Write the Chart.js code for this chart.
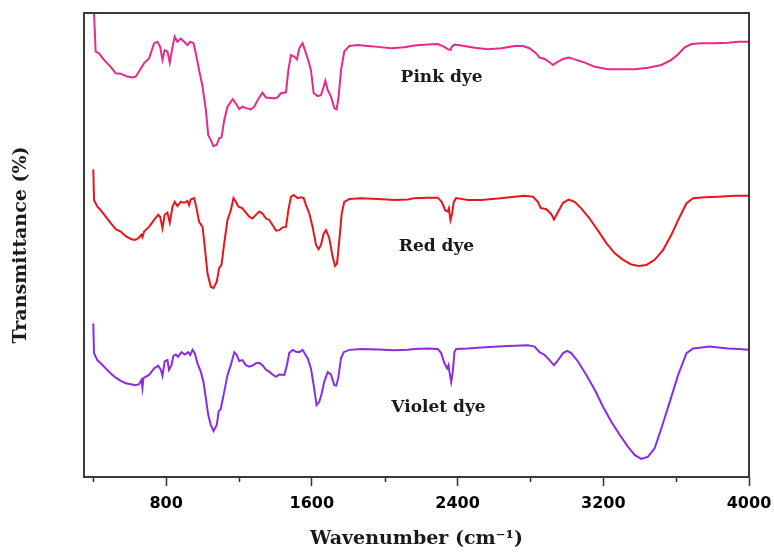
<!DOCTYPE html>
<html>
<head>
<meta charset="utf-8">
<script src="https://cdn.jsdelivr.net/npm/chart.js@4.4.1/dist/chart.umd.min.js"></script>
<style>
  html, body { margin: 0; padding: 0; background: #fff; }
  #c { display: block; }
</style>
</head>
<body>
<canvas id="c" width="774" height="560"></canvas>
<script>
"use strict";
/* FTIR spectra of the three dyes (offset transmittance, a.u.) */

const MAJOR = [800, 1600, 2400, 3200, 4000];
const MINOR = [400, 1200, 2000, 2800, 3600];

const pinkWn = [404,413,431,459,496,523,551,587,615,633,651,679,706,734,752,767,780,792,807,820,835,847,862,880,899,917,932,950,963,981,
  1000,1018,1031,1045,1060,1078,1091,1104,1119,1137,1165,1183,1201,1219,1238,1265,1284,1302,1329,1348,1375,1394,1412,1430,1458,1471,1485,
  1504,1518,1531,1549,1562,1577,1595,1610,1632,1650,1665,1674,1687,1705,1723,1736,1747,1760,1778,1806,1852,1907,1962,2035,2108,
  2163,2236,2291,2328,2346,2361,2368,2383,2420,2493,2566,2640,2713,2759,2795,2832,2850,2878,2905,2924,2942,2979,3010,3043,3098,3153,
  3226,3299,3373,3446,3519,3574,3611,3647,3684,3739,3812,3886,3941,4000];
const pinkT = [100,91.7,91.3,89.9,88.4,87.0,86.9,86.3,86.1,86.3,87.4,89.2,90.2,93.5,93.8,92.7,89.9,92.0,91.7,89.3,92.7,94.9,93.8,94.5,93.8,93.1,93.8,93.5,91.3,87.7,
  84.1,79.1,73.7,72.6,71.3,71.6,73.0,73.2,76.9,79.8,81.4,80.5,79.3,79.8,79.5,79.2,79.8,81.2,82.8,81.8,81.7,81.6,81.8,82.7,82.9,87.7,90.9,
  90.6,90.0,92.4,93.5,92.0,90.2,87.7,82.7,82.1,82.3,84.1,85.4,83.4,82.0,79.5,79.2,82.0,87.7,91.7,92.9,93.1,92.9,92.7,92.4,92.6,
  93.0,93.2,93.3,92.7,92.2,92.0,92.7,93.2,93.0,92.5,92.2,92.4,92.9,92.9,92.4,91.3,90.4,90.1,89.4,88.8,89.3,90.1,90.4,90.0,89.3,88.4,
  87.9,87.9,87.9,88.2,88.8,89.9,91.1,92.6,93.3,93.5,93.5,93.6,93.8,93.8];

const redWn = [400,404,422,441,468,496,523,551,578,606,628,646,664,670,679,706,734,756,767,780,792,807,820,835,847,862,880,899,917,926,935,954,967,981,
  1000,1012,1027,1045,1060,1078,1091,1104,1119,1137,1155,1170,1183,1196,1219,1238,1256,1274,1293,1311,1329,1348,1366,1384,1403,1421,1439,1458,
  1471,1485,1500,1522,1540,1555,1568,1586,1604,1623,1637,1650,1665,1678,1696,1714,1727,1738,1751,1764,1778,1806,1870,1962,2053,2127,
  2163,2236,2291,2313,2332,2346,2352,2361,2370,2379,2392,2456,2530,2621,2713,2768,2814,2841,2856,2887,2914,2929,2947,2979,3010,3043,3079,
  3125,3171,3217,3263,3309,3354,3395,3437,3482,3528,3574,3620,3657,3693,3757,3831,3922,4000];
const redT = [66.3,59.7,58.3,57.5,56.1,54.7,53.4,52.9,51.9,51.3,51.1,51.4,52.2,51.7,52.9,53.9,55.4,56.5,56.1,53.6,56.5,57.0,54.8,58.3,59.3,58.4,59.3,59.1,59.5,58.6,59.8,60.1,57.9,55.0,
  53.9,49.6,43.9,41.0,40.7,42.1,45.0,45.7,50.4,55.4,57.5,60.1,59.3,58.3,57.9,57.0,56.1,55.7,56.5,57.2,56.8,55.7,55.4,54.3,53.1,53.2,53.8,53.9,
  57.5,60.4,60.8,60.1,60.3,60.1,58.6,56.8,53.9,50.0,49.1,50.0,52.5,53.2,51.4,47.5,45.5,46.0,51.1,56.8,59.3,59.9,60.1,59.9,59.7,59.8,
  60.1,60.2,60.2,59.3,57.5,57.2,57.9,55.4,56.8,59.3,60.1,59.7,59.7,60.0,60.4,60.6,60.4,59.3,58.0,57.7,56.7,55.5,56.8,59.1,59.8,59.3,57.9,
  55.7,53.1,50.4,48.2,46.8,45.8,45.5,45.7,46.8,48.9,52.2,56.1,59.0,60.1,60.3,60.4,60.6,60.6];

const violetWn = [400,404,422,441,468,496,523,551,578,606,633,651,664,670,675,706,734,756,771,780,792,807,816,829,840,853,866,884,902,921,932,945,957,972,990,
  1005,1018,1031,1045,1060,1078,1088,1100,1119,1137,1155,1174,1188,1201,1219,1238,1256,1274,1293,1311,1329,1348,1366,1384,1403,1421,1449,
  1463,1476,1494,1513,1531,1549,1564,1577,1595,1610,1626,1641,1654,1668,1687,1705,1723,1734,1745,1760,1775,1806,1870,1962,2053,2127,
  2163,2236,2291,2310,2328,2343,2350,2357,2365,2374,2383,2392,2456,2530,2621,2713,2786,2823,2850,2878,2905,2929,2947,2979,3002,3024,3061,
  3107,3153,3198,3244,3290,3336,3373,3409,3446,3482,3519,3565,3611,3657,3693,3739,3785,3831,3886,3941,4000];
const violetT = [33.1,26.7,25.2,24.5,23.4,22.3,21.4,20.7,20.2,20.0,19.8,20.0,20.9,19.2,21.3,22.0,23.4,24.0,23.1,21.8,24.9,25.2,23.1,24.1,26.1,26.4,25.9,26.9,26.4,26.9,26.3,27.4,26.7,24.5,22.7,
  20.5,17.0,13.4,11.2,9.9,11.2,14.1,14.7,18.4,22.0,24.1,26.9,26.3,25.0,25.2,24.1,23.8,24.0,24.5,24.6,24.1,23.1,22.7,22.1,21.6,22.1,22.0,
  24.1,26.7,27.4,27.0,26.9,27.4,26.4,25.6,23.4,19.8,15.5,16.2,18.0,20.5,22.6,22.1,19.8,19.7,21.3,25.6,26.9,27.4,27.6,27.5,27.3,27.4,
  27.6,27.7,27.6,26.7,24.5,23.4,24.1,22.3,20.5,22.7,27.0,27.6,27.7,27.9,28.1,28.3,28.4,28.1,26.9,26.3,25.2,24.1,24.9,26.7,27.2,26.7,24.9,
  22.0,18.8,15.2,11.9,9.1,6.5,4.7,3.9,4.4,6.2,10.5,16.2,22.0,26.7,27.7,27.9,28.1,27.9,27.7,27.6,27.4];

// curve captions, placed in data units
const capText = ["Pink dye", "Red dye", "Violet dye"];
const capWn = [2312, 2284, 2295];
const capT = [86.0, 49.6, 14.9];

const SERIF = "'DejaVu Serif', 'Liberation Serif', serif";
const pts = (xs, ys) => xs.map((x, i) => ({ x: x, y: ys[i] }));
const series = (data, color) => ({ data: data, borderColor: color, borderWidth: 2, pointRadius: 0, fill: false, tension: 0 });

// box round the plot, minor ticks, curve captions
const extras = {
  id: "extras",
  afterDraw(chart){
    const { ctx, chartArea: a, scales: { x, y } } = chart;
    ctx.save();
    ctx.strokeStyle = "#333"; ctx.lineWidth = 1.5;
    MINOR.forEach(v => {
      const px = Math.round(x.getPixelForValue(v)) + 0.5;
      ctx.beginPath(); ctx.moveTo(px, a.bottom); ctx.lineTo(px, a.bottom + 5); ctx.stroke();
    });
    ctx.lineWidth = 2; ctx.strokeStyle = "#3a3a3a";
    ctx.strokeRect(a.left, a.top, a.right - a.left, a.bottom - a.top);
    ctx.fillStyle = "#1a1a1a"; ctx.font = "bold 17px " + SERIF;
    ctx.textAlign = "center"; ctx.textBaseline = "middle";
    capText.forEach((t, i) => ctx.fillText(t, x.getPixelForValue(capWn[i]), y.getPixelForValue(capT[i])));
    ctx.restore();
  }
};

new Chart(document.getElementById("c"), {
  type: "line",
  data: { datasets: [
    series(pts(pinkWn, pinkT), "#E8288C"),
    series(pts(redWn, redT), "#E6161C"),
    series(pts(violetWn, violetT), "#8A2BE6")
  ]},
  options: {
    responsive: false, animation: false, parsing: true,
    layout: { padding: { top: 13, right: 25, left: 0, bottom: 0 } },
    plugins: { legend: { display: false }, tooltip: { enabled: false } },
    scales: {
      x: {
        type: "linear", min: 349, max: 4000,
        afterBuildTicks: s => { s.ticks = MAJOR.map(v => ({ value: v })); },
        afterFit: s => { s.height = 83; s.paddingLeft = 0; s.paddingRight = 0; },
        border: { display: false },
        grid: { drawOnChartArea: false, tickLength: 9, tickColor: "#333", tickWidth: 1.5 },
        ticks: { color: "#000", autoSkip: false, maxRotation: 0, padding: 8,
          callback: v => String(v),
          font: { family: "'DejaVu Sans', sans-serif", weight: "bold", size: 16 } },
        title: { display: true, text: "Wavenumber (cm\u207B\u00B9)", color: "#1a1a1a",
          font: { family: SERIF, weight: "bold", size: 19 }, padding: { top: 0, bottom: 10 } }
      },
      y: {
        min: 0, max: 100,
        afterFit: s => { s.width = 84; },
        border: { display: false },
        grid: { display: false },
        ticks: { display: false },
        title: { display: true, text: "Transmittance (%)", color: "#1a1a1a",
          font: { family: SERIF, weight: "bold", size: 19 }, padding: { top: 10, bottom: 0 } }
      }
    }
  },
  plugins: [extras]
});
</script>
</body>
</html>
